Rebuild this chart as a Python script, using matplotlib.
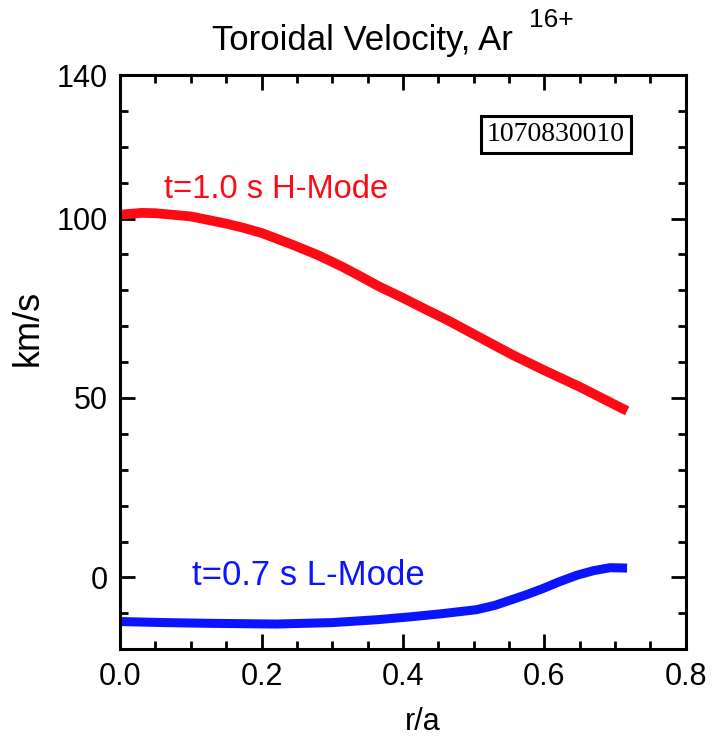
import numpy as np
import matplotlib
matplotlib.use('Agg')
from matplotlib import pyplot as plt
from matplotlib.ticker import MultipleLocator

plt.rcParams['font.family'] = ['Liberation Sans', 'DejaVu Sans']

# H-mode profile, t=1.0 s
r_h = [0.0, 0.031, 0.05, 0.10, 0.15, 0.173, 0.20, 0.244, 0.28, 0.314, 0.34, 0.367,
       0.40, 0.43, 0.462, 0.50, 0.555, 0.60, 0.65, 0.69, 0.717]
v_h = [101.1, 101.6, 101.5, 100.6, 98.6, 97.5, 96.0, 92.7, 89.8, 86.6, 83.9, 81.0,
       77.9, 74.9, 71.8, 67.8, 62.0, 57.7, 53.1, 49.1, 46.4]

# L-mode profile, t=0.7 s
r_l = [0.0, 0.063, 0.126, 0.221, 0.30, 0.363, 0.41, 0.456, 0.504, 0.53, 0.551, 0.575,
       0.598, 0.62, 0.646, 0.67, 0.693, 0.717]
v_l = [-12.3, -12.6, -12.8, -13.0, -12.6, -11.8, -11.0, -10.1, -9.0, -7.8, -6.4, -4.8,
       -3.1, -1.3, 0.6, 1.9, 2.7, 2.6]

shot = '1070830010'

W, H = 728, 736
fig = plt.figure(figsize=(W / 100, H / 100), dpi=100)
ax = fig.add_axes([0.165, 0.118, 0.777, 0.780])

ax.plot(r_h, v_h, color='#ff0a14', lw=7, solid_capstyle='butt', solid_joinstyle='round')
ax.plot(r_l, v_l, color='#0a14ff', lw=6.5, solid_capstyle='butt', solid_joinstyle='round')

ax.set_xlim(0, 0.8)
ax.set_ylim(-20, 140)
ax.set_xticks([0, 0.2, 0.4, 0.6, 0.8])
ax.set_xticklabels(['0.0', '0.2', '0.4', '0.6', '0.8'])
ax.set_yticks([0, 50, 100, 140])
ax.xaxis.set_minor_locator(MultipleLocator(0.05))
ax.yaxis.set_minor_locator(MultipleLocator(10))
ax.tick_params(which='both', direction='in', top=True, right=True, width=2, labelsize=22)
ax.tick_params(which='major', length=11, pad=9)
ax.tick_params(which='minor', length=6)
for s in ax.spines.values():
    s.set_linewidth(2.2)

ax.set_xlabel('r/a', fontsize=22)
ax.xaxis.set_label_coords(0.535, -0.1)
ax.set_ylabel('km/s', fontsize=26)
ax.yaxis.set_label_coords(-0.132, 0.56)

# title with a raised charge state
fig.text(513 / W, 1 - 50 / H, 'Toroidal Velocity, Ar', fontsize=25, ha='right', va='baseline')
fig.text(529 / W, 1 - 27 / H, '16+', fontsize=19, ha='left', va='baseline')

ax.text(0.062, 108, 't=1.0 s H-Mode', color='#ff0a14', fontsize=23.5, va='center')
ax.text(0.102, 0.5, 't=0.7 s L-Mode', color='#0a14ff', fontsize=25, va='center')
ax.text(0.616, 123.5, shot, fontsize=20, family=['Liberation Serif'], ha='center', va='center',
        bbox=dict(boxstyle='square,pad=0.22', fc='white', ec='black', lw=2.2))

fig.savefig('out.png', dpi=100)
